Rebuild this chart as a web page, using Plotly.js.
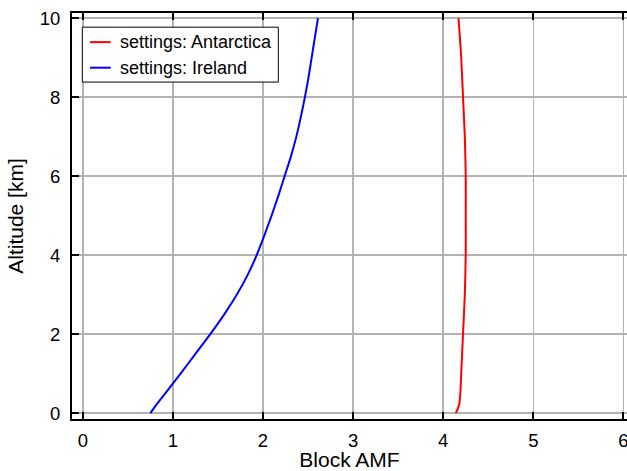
<!DOCTYPE html>
<html><head><meta charset="utf-8">
<script src="https://cdn.plot.ly/plotly-3.0.1.min.js"></script>
<style>html,body{margin:0;padding:0;background:#fff}</style>
</head><body><div id="c" style="width:627px;height:471px"></div>
<script>
const altIreland = [0, 0.25, 0.5, 1, 1.5, 2, 2.5, 3, 3.5, 4, 4.5, 5, 5.5, 6, 6.5, 7, 7.5, 8, 8.5, 9, 9.5, 10];
const amfIreland = [0.75, 0.83, 0.915, 1.085, 1.25, 1.415, 1.57, 1.71, 1.83, 1.93, 2.015, 2.095, 2.17, 2.24, 2.31, 2.37, 2.42, 2.465, 2.505, 2.54, 2.575, 2.61];
const altAntarctica = [0, 0.1, 0.25, 0.5, 1, 2, 3, 4, 5, 6, 7, 8, 9, 10];
const amfAntarctica = [4.14, 4.16, 4.18, 4.19, 4.20, 4.22, 4.24, 4.25, 4.25, 4.25, 4.24, 4.22, 4.20, 4.17];
const seriesNames = ['settings: Antarctica', 'settings: Ireland'];
const seriesColors = ['#ff0000', '#0000ff'];
const xTicks = [0, 1, 2, 3, 4, 5, 6];
const yTicks = [0, 2, 4, 6, 8, 10];

const W = 627, H = 471;
const M = {l: 72, r: 0, t: 12.5, b: 51.7};
const pw = W - M.l - M.r, ph = H - M.t - M.b;
const px = x => (x - M.l) / pw;
const py = y => (H - M.b - y) / ph;

const fam = 'Liberation Sans, Arial, sans-serif';
const tickFont = {family: fam, size: 18.5, color: '#000'};
const titleFont = {family: fam, size: 21, color: '#000'};
const traces = [
  {x: amfAntarctica, y: altAntarctica, mode: 'lines', name: seriesNames[0], line: {color: seriesColors[0], width: 2, shape: 'spline', smoothing: 0.6}},
  {x: amfIreland, y: altIreland, mode: 'lines', name: seriesNames[1], line: {color: seriesColors[1], width: 2, shape: 'spline', smoothing: 0.8}}
];

// manual legend
const shapes = [{type: 'rect', xref: 'paper', yref: 'paper', x0: px(82.3), x1: px(278.3), y0: py(81.7), y1: py(26.7),
  fillcolor: '#fff', line: {color: '#000', width: 1}, layer: 'above'}];
const annotations = [];
const rowY = [41.7, 67.3];
seriesNames.forEach((n, i) => {
  shapes.push({type: 'line', xref: 'paper', yref: 'paper', x0: px(90), x1: px(110.7), y0: py(rowY[i]), y1: py(rowY[i]),
    line: {color: seriesColors[i], width: 2}, layer: 'above'});
  annotations.push({xref: 'paper', yref: 'paper', x: px(117.5), y: py(rowY[i]), xanchor: 'left', yanchor: 'middle',
    text: n, showarrow: false, font: {family: fam, size: 18, color: '#000'}});
});

const layout = {
  width: W, height: H,
  margin: {l: M.l, r: M.r, t: M.t, b: M.b, pad: 0},
  paper_bgcolor: '#fff', plot_bgcolor: '#fff',
  font: tickFont,
  showlegend: false,
  shapes: shapes, annotations: annotations,
  xaxis: {range: [-0.12, 6.04], tickvals: xTicks, ticks: 'inside', ticklen: 7, tickwidth: 2, tickcolor: '#000',
          showline: true, linecolor: '#000', linewidth: 2, mirror: 'ticks', showgrid: true, gridcolor: '#b3b3b3', gridwidth: 1.5,
          zeroline: false, tickfont: tickFont, ticklabeloverflow: 'allow', ticklabelstandoff: 4,
          title: {text: 'Block AMF', font: titleFont, standoff: 4}},
  yaxis: {range: [-0.15, 10.13], tickvals: yTicks, ticks: 'inside', ticklen: 7, tickwidth: 2, tickcolor: '#000',
          showline: true, linecolor: '#000', linewidth: 2, showgrid: true, gridcolor: '#b3b3b3', gridwidth: 1.5,
          zeroline: false, tickfont: tickFont, ticklabelstandoff: 6,
          title: {text: 'Altitude [km]', font: titleFont, standoff: 10}}
};
Plotly.newPlot('c', traces, layout, {displayModeBar: false, staticPlot: true});
</script></body></html>
